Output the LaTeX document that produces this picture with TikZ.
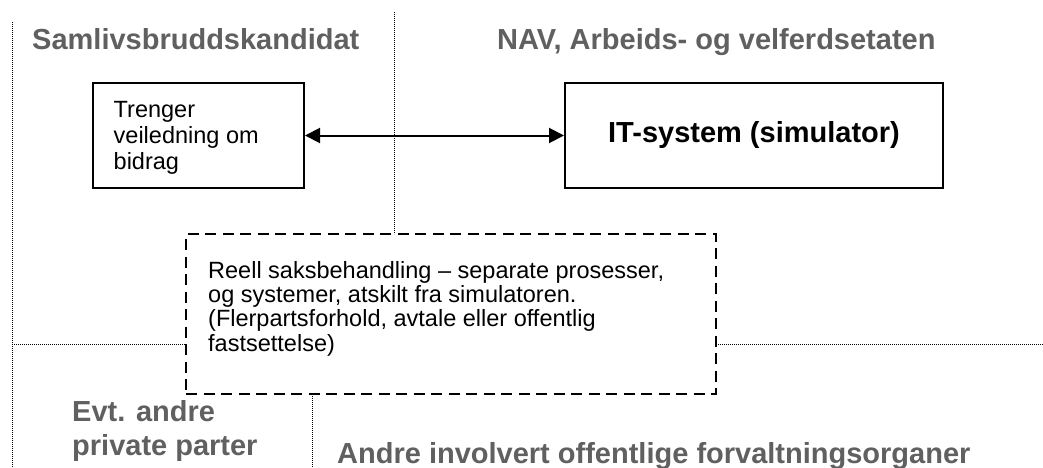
\documentclass[tikz,border=0pt]{standalone}
\usepackage{fontspec}
\setmainfont{Liberation Sans}
\usetikzlibrary{arrows.meta}
\definecolor{hdrgrey}{HTML}{606060}
\begin{document}
\begin{tikzpicture}[x=1pt,y=-1pt,
  sep/.style={line width=0.9pt, dash pattern=on 0.9pt off 1.1pt, black},
  solidbox/.style={draw, line width=2pt, inner sep=0pt},
  dashbox/.style={draw, line width=2.4pt, dash pattern=on 11pt off 6.5pt, inner sep=0pt},
  header/.style={font=\fontsize{29}{33.3}\selectfont\bfseries, text=hdrgrey, inner sep=0pt, align=left},
  body/.style={font=\fontsize{23.5}{26}\selectfont, align=left, inner sep=0pt},
  link/.style={line width=2pt, {Triangle[length=15pt,width=15pt]}-{Triangle[length=15pt,width=15pt]}}
]
\useasboundingbox (0,0) rectangle (1043,468);
\fill[white] (0,0) rectangle (1043,468);

% separators
\coordinate (l1) at (12,22);
\coordinate (l2) at (12,468);
\coordinate (m1) at (394,12);
\coordinate (m2) at (394,234);
\coordinate (b1) at (312,394);
\coordinate (b2) at (312,468);
\coordinate (h1) at (12,344);
\coordinate (h2) at (186,344);
\coordinate (h3) at (716,344);
\coordinate (h4) at (1043,344);
\draw[sep] (l1) -- (l2);
\draw[sep] (m1) -- (m2);
\draw[sep] (b1) -- (b2);
\draw[sep] (h1) -- (h2);
\draw[sep] (h3) -- (h4);

% headers
\node[header, anchor=base west] (hsam) at (32,50) {Samlivsbruddskandidat};
\node[header, anchor=base west] (hnav) at (497,50) {NAV, Arbeids- og velferdsetaten};
\node[header, anchor=base west] (hevt) at (72,455) {Evt. andre\\private parter};
\node[header, anchor=base west] (hand) at (337,463) {Andre involvert offentlige forvaltningsorganer};

% boxes
\node[solidbox, minimum width=211pt, minimum height=105pt] (need) at (198.5,135.5) {};
\node[body, anchor=base west] (needtxt) at (113.5,169.7) {Trenger\\veiledning om\\bidrag};
\node[solidbox, minimum width=378pt, minimum height=105pt,
      font=\fontsize{29}{33}\selectfont\bfseries] (it) at (754,135.5) {IT-system (simulator)};

\draw[link] (need.east) -- (it.west);

\node[dashbox, minimum width=530pt, minimum height=160pt] (real) at (451,314) {};
\node[body, anchor=base west, font=\fontsize{23.5}{24.3}\selectfont] (realtxt) at (208,351)
  {Reell saksbehandling -- separate prosesser,\\og systemer, atskilt fra simulatoren.\\(Flerpartsforhold, avtale eller offentlig\\fastsettelse)};
\end{tikzpicture}
\end{document}
